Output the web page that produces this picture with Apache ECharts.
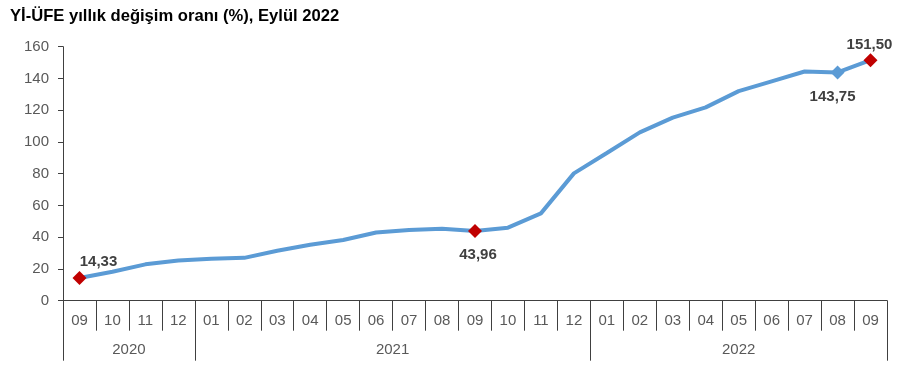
<!DOCTYPE html>
<html>
<head>
<meta charset="utf-8">
<script src="https://cdn.jsdelivr.net/npm/echarts@6/dist/echarts.min.js"></script>
<style>
html,body{margin:0;padding:0;background:#fff;}
#main{width:913px;height:381px;}
</style>
</head>
<body>
<div id="main"></div>
<script>
const titleText = 'Yİ-ÜFE yıllık değişim oranı (%), Eylül 2022';
const months = ['09','10','11','12','01','02','03','04','05','06','07','08','09','10','11','12','01','02','03','04','05','06','07','08','09'];
const years = ['2020','2021','2022'];
const yearBounds = [0, 4, 16, 25];
const yearCenters = [2, 10, 20.5];
const values = [14.33, 18.2, 22.9, 25.3, 26.5, 27.0, 31.5, 35.3, 38.2, 43.0, 44.5, 45.3, 43.96, 46.0, 55.0, 80.2, 93.0, 106.0, 115.3, 121.8, 132.0, 138.2, 144.4, 143.75, 151.50];
const yTicks = [0, 20, 40, 60, 80, 100, 120, 140, 160];

const redIdx = [0, 12, 24];
const blueIdx = [23];
const labelOffsets = {0: [19, -16], 12: [3, 24], 23: [-5, 24], 24: [-1, -15]};

const lineColor = '#5b9bd5';
const fmt = v => v.toFixed(2).replace('.', ',');

const seriesData = values.map((v, i) => {
  const item = {value: v};
  if (redIdx.includes(i) || blueIdx.includes(i)) {
    item.symbol = 'diamond';
    item.symbolSize = 14;
    item.itemStyle = {color: redIdx.includes(i) ? '#c00000' : lineColor};
  } else {
    item.symbol = 'none';
  }
  if (labelOffsets[i]) {
    item.label = {
      show: true,
      position: 'inside',
      offset: labelOffsets[i],
      formatter: p => fmt(p.value),
      fontFamily: 'Liberation Sans, Arial, sans-serif',
      fontWeight: 'bold',
      fontSize: 15,
      color: '#404040',
      align: 'center',
      verticalAlign: 'middle'
    };
  }
  return item;
});

const chart = echarts.init(document.getElementById('main'));
chart.setOption({
  animation: false,
  backgroundColor: '#fff',
  title: {
    text: titleText,
    left: 10, top: 8, padding: 0,
    textStyle: {fontFamily: 'Liberation Sans, Arial, sans-serif', fontWeight: 'bold', fontSize: 16.6, color: '#000'}
  },
  grid: {left: 63, right: 26, top: 46.7, bottom: 80.3},
  xAxis: [
    {
      type: 'category',
      data: months,
      boundaryGap: true,
      axisLine: {show: true, lineStyle: {color: '#404040', width: 1}},
      axisTick: {show: true, interval: 0, length: 30, alignWithLabel: false, lineStyle: {color: '#404040'}},
      axisLabel: {interval: 0, margin: 13, fontSize: 15, color: '#595959', fontFamily: 'Liberation Sans, Arial, sans-serif'},
      splitLine: {show: false}
    },
    {
      type: 'value',
      min: 0, max: 25,
      position: 'bottom',
      offset: 0,
      axisLine: {show: false},
      axisTick: {show: true, length: 60, customValues: yearBounds, lineStyle: {color: '#404040'}},
      axisLabel: {
        show: true, margin: 42, fontSize: 15, color: '#595959',
        fontFamily: 'Liberation Sans, Arial, sans-serif',
        customValues: yearCenters,
        formatter: v => years[yearCenters.indexOf(v)] || ''
      },
      splitLine: {show: false}
    }
  ],
  yAxis: {
    type: 'value',
    min: yTicks[0], max: yTicks[yTicks.length - 1], interval: 20,
    axisLine: {show: true, lineStyle: {color: '#404040'}},
    axisTick: {show: true, length: 5, lineStyle: {color: '#404040'}},
    axisLabel: {margin: 14, fontSize: 15, color: '#595959', fontFamily: 'Liberation Sans, Arial, sans-serif'},
    splitLine: {show: false}
  },
  series: [{
    type: 'line',
    xAxisIndex: 0,
    data: seriesData,
    lineStyle: {color: lineColor, width: 4},
    itemStyle: {color: lineColor},
    showAllSymbol: true,
    z: 3
  }]
});
</script>
</body>
</html>
